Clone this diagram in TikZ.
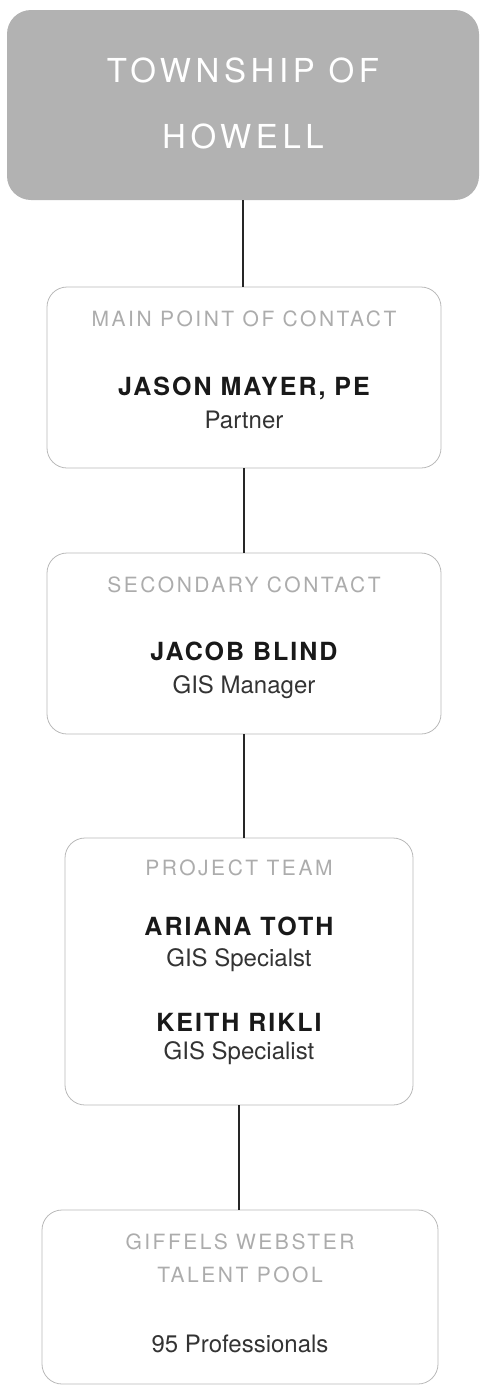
\documentclass[tikz,border=0pt]{standalone}
\usepackage{fontspec}
\setmainfont{TeX Gyre Heros}
\newfontfamily\headfont[LetterSpace=14]{TeX Gyre Heros}
\newfontfamily\tagfont[LetterSpace=12]{TeX Gyre Heros}
\newfontfamily\whofont[LetterSpace=8]{TeX Gyre Heros}

\begin{document}
\begin{tikzpicture}[x=1pt, y=-1pt,
  head/.style={rectangle, rounded corners=24pt, fill=gray!60, minimum width=472pt, minimum height=190pt, inner sep=0pt},
  card/.style={rectangle, rounded corners=20pt, draw=gray!55, line width=0.8pt, inner sep=0pt},
  link/.style={draw=black!85, line width=1.6pt},
  headtext/.style={anchor=base, text=white, font=\headfont\fontsize{33}{33}\selectfont},
  tag/.style={anchor=base, text=gray!65, font=\tagfont\fontsize{21}{21}\selectfont},
  who/.style={anchor=base, text=black!90, font=\whofont\bfseries\fontsize{25}{25}\selectfont},
  role/.style={anchor=base, text=black!80, font=\fontsize{24}{24}\selectfont}]
\useasboundingbox (0,0) rectangle (483,1387);

\node [head] (town) at (243,105) {};
\node [headtext] (townA) at (243,82) {TOWNSHIP OF};
\node [headtext] (townB) at (243,148) {HOWELL};

\node [card, minimum width=394pt, minimum height=181pt] (main) at (244,377.5) {};
\node [tag] (mainTag) at (244,326.5) {MAIN POINT OF CONTACT};
\node [who] (mainWho) at (244,395) {JASON MAYER, PE};
\node [role] (mainRole) at (244,428.5) {Partner};

\node [card, minimum width=394pt, minimum height=181pt] (second) at (244,643.5) {};
\node [tag] (secondTag) at (244,592.5) {SECONDARY CONTACT};
\node [who] (secondWho) at (244,660) {JACOB BLIND};
\node [role] (secondRole) at (244,693.5) {GIS Manager};

\node [card, minimum width=348pt, minimum height=267pt] (team) at (239,971.5) {};
\node [tag] (teamTag) at (239,875.5) {PROJECT TEAM};
\node [who] (teamWhoA) at (239,935) {ARIANA TOTH};
\node [role] (teamRoleA) at (239,966.5) {GIS Specialst};
\node [who] (teamWhoB) at (239,1031) {KEITH RIKLI};
\node [role] (teamRoleB) at (239,1059.5) {GIS Specialist};

\node [card, minimum width=396pt, minimum height=174pt] (pool) at (240,1297) {};
\node [tag] (poolTagA) at (240,1249.5) {GIFFELS WEBSTER};
\node [tag] (poolTagB) at (240,1282.5) {TALENT POOL};
\node [role] (poolRole) at (240,1352.5) {95 Professionals};

\draw [link] (town.south) -- (town.south |- main.north);
\draw [link] (main.south) -- (main.south |- second.north);
\draw [link] (second.south) -- (team.north -| second.south);
\draw [link] (team.south) -- (team.south |- pool.north);
\end{tikzpicture}
\end{document}
